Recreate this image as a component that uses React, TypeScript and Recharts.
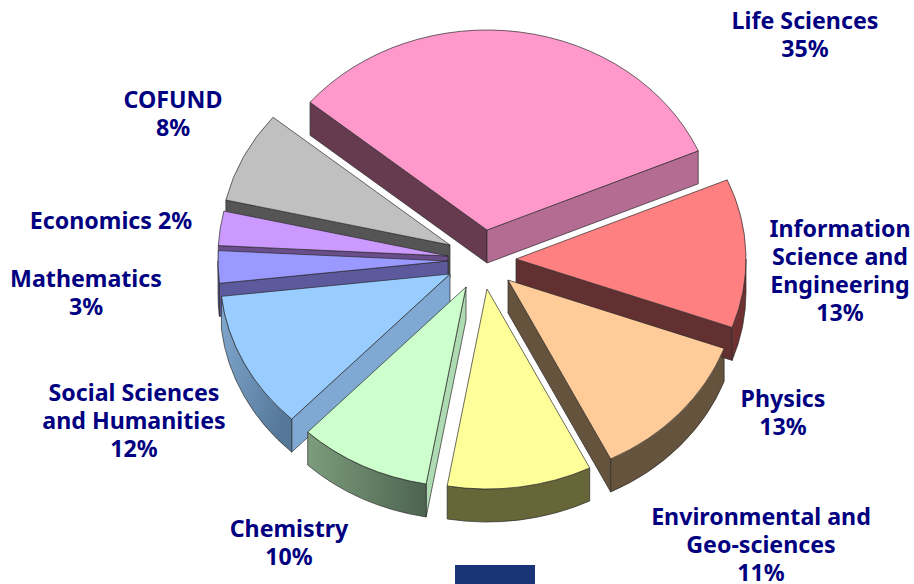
import React from "react";
import { PieChart, Pie } from "recharts";

// slice order runs clockwise from Life Sciences
const categories = [
  "Life Sciences",
  "Information Science and Engineering",
  "Physics",
  "Environmental and Geo-sciences",
  "Chemistry",
  "Social Sciences and Humanities",
  "Mathematics",
  "Economics",
  "COFUND",
];

// share of the circle as drawn in the picture
const sliceShares = [32.5, 12.03, 12.08, 10.14, 9.31, 11.14, 2.61, 2.78, 7.42];

// printed labels, these do not add up to 100 in the original
const labelLines = [
  ["Life Sciences", "35%"],
  ["Information", "Science and", "Engineering", "13%"],
  ["Physics", "13%"],
  ["Environmental and", "Geo-sciences", "11%"],
  ["Chemistry", "10%"],
  ["Social Sciences", "and Humanities", "12%"],
  ["Mathematics", "3%"],
  ["Economics 2%"],
  ["COFUND", "8%"],
];

const labelAnchors = [
  [805, 20],
  [840, 228],
  [783, 398],
  [761, 516],
  [289, 528],
  [134, 392],
  [86, 278],
  [111, 220],
  [173, 99],
];

const explode = [
  [3, -32],
  [32, -3],
  [24, 18],
  [3, 27],
  [-18, 25],
  [-34, 12],
  [-36, -1],
  [-36, -6],
  [-34, -17],
];

const faceColors = ["#FF99CC", "#FF8080", "#FFCC99", "#FFFF99", "#CCFFCC", "#99CCFF", "#9999FF", "#CC99FF", "#C0C0C0"];
// null = that cut face is turned away from the viewer
const startWalls = ["#663B50", null, null, null, "#AEDBB2", "#7FA8D2", "#5C5A9C", "#6A4E8C", "#555555"];
const endWalls = ["#B56C92", "#633031", "#66533D", null, null, null, null, null, null];
const arcWalls = ["#663B50", "#6E3030", "#66533D", "#666638", "url(#chemArc)", "url(#socialArc)", "#5C5A9C", "#6A4E8C", "#555555"];

const tableData = categories.map((category, i) => ({ category, value: sliceShares[i] }));
// walls get painted back to front, so COFUND has to come first
const wallData = [...tableData].reverse();

const CX = 484;
const CY = 262;
const RX = 230;
const RY = 200;
const DEPTH = 33;
const EDGE = "#2b2b2b";

const RAD = Math.PI / 180;

const pointAt = (angle: number, ox: number, oy: number) => ({
  x: ox + RX * Math.cos(angle * RAD),
  y: oy - RY * Math.sin(angle * RAD),
});

const wallPath = (angle: number, ox: number, oy: number) => {
  const p = pointAt(angle, ox, oy);
  return `M${ox},${oy} L${p.x},${p.y} L${p.x},${p.y + DEPTH} L${ox},${oy + DEPTH} Z`;
};

const WallShape = (props: any) => {
  const i = categories.indexOf(props.category);
  const ox = props.cx + explode[i][0];
  const oy = props.cy + explode[i][1];
  // this pie runs the other way round, so the angles come in swapped
  const hi = Math.max(props.startAngle, props.endAngle);
  const lo = Math.min(props.startAngle, props.endAngle);

  // outer rim only shows on the lower half of the ellipse (0 to -180 here)
  let rim = null;
  const from = Math.min(hi, 0);
  const to = Math.max(lo, -180);
  if (from > to) {
    const a = pointAt(from, ox, oy);
    const b = pointAt(to, ox, oy);
    rim = (
      <path
        d={`M${a.x},${a.y} A${RX},${RY} 0 0 1 ${b.x},${b.y} L${b.x},${b.y + DEPTH} A${RX},${RY} 0 0 0 ${a.x},${a.y + DEPTH} Z`}
        fill={arcWalls[i]}
        stroke={EDGE}
        strokeWidth={0.7}
      />
    );
  }

  return (
    <g>
      {startWalls[i] && <path d={wallPath(hi, ox, oy)} fill={startWalls[i]!} stroke={EDGE} strokeWidth={0.7} />}
      {endWalls[i] && <path d={wallPath(lo, ox, oy)} fill={endWalls[i]!} stroke={EDGE} strokeWidth={0.7} />}
      {rim}
    </g>
  );
};

const TopShape = (props: any) => {
  const i = categories.indexOf(props.category);
  const ox = props.cx + explode[i][0];
  const oy = props.cy + explode[i][1];
  const a = pointAt(props.startAngle, ox, oy);
  const b = pointAt(props.endAngle, ox, oy);
  const large = props.startAngle - props.endAngle > 180 ? 1 : 0;
  return (
    <path
      d={`M${ox},${oy} L${a.x},${a.y} A${RX},${RY} 0 ${large} 1 ${b.x},${b.y} Z`}
      fill={faceColors[i]}
      stroke={EDGE}
      strokeWidth={0.7}
    />
  );
};

const SliceLabel = ({ index }: any) => {
  const [x, y] = labelAnchors[index];
  return (
    <text
      textAnchor="middle"
      fontFamily="'Noto Sans', sans-serif"
      fontWeight={700}
      fontSize={23.2}
      fill="#000080"
    >
      {labelLines[index].map((line, n) => (
        <tspan key={line} x={x} y={y + n * 28} dominantBaseline="central">
          {line}
        </tspan>
      ))}
    </text>
  );
};

export default function App() {
  return (
    <div style={{ position: "absolute", left: 0, top: 0, width: 914, height: 584, background: "#fff" }}>
      <PieChart width={914} height={584} margin={{ top: 0, right: 0, bottom: 0, left: 0 }}>
        <defs>
          <linearGradient id="chemArc" x1="0" y1="0" x2="1" y2="0">
            <stop offset="0%" stopColor="#7C9C7C" />
            <stop offset="100%" stopColor="#4D6450" />
          </linearGradient>
          <linearGradient id="socialArc" x1="0" y1="0" x2="1" y2="0.6">
            <stop offset="0%" stopColor="#82A9D0" />
            <stop offset="100%" stopColor="#557899" />
          </linearGradient>
        </defs>
        <Pie
          data={wallData}
          dataKey="value"
          nameKey="category"
          cx={CX}
          cy={CY}
          innerRadius={0}
          outerRadius={RX}
          startAngle={-219.7}
          endAngle={140.3}
          stroke="none"
          shape={WallShape}
          isAnimationActive={false}
        />
        <Pie
          data={tableData}
          dataKey="value"
          nameKey="category"
          cx={CX}
          cy={CY}
          innerRadius={0}
          outerRadius={RX}
          startAngle={140.3}
          endAngle={-219.7}
          stroke="none"
          shape={TopShape}
          label={SliceLabel}
          labelLine={false}
          isAnimationActive={false}
        />
      </PieChart>
      <div style={{ position: "absolute", left: 455, top: 565, width: 80, height: 19, background: "#1A3478" }} />
    </div>
  );
}
